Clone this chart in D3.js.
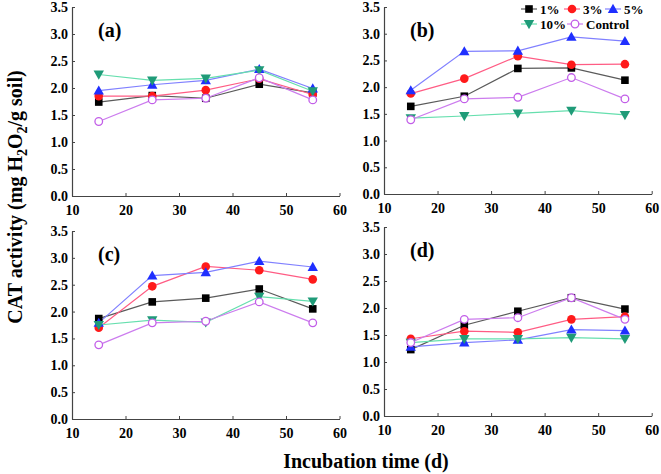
<!DOCTYPE html>
<html><head><meta charset="utf-8">
<script src="https://cdn.jsdelivr.net/npm/d3@7"></script>
<style>body{margin:0;background:#fff}svg{display:block}text{font-family:"Liberation Serif","Times New Roman",serif;font-weight:bold}</style>
</head><body>
<script>
const days = [15, 25, 35, 45, 55];
const seriesNames = ["1%", "3%", "5%", "10%", "Control"];
const xTicks = [10, 20, 30, 40, 50, 60];
const yTicks = [0, 0.5, 1.0, 1.5, 2.0, 2.5, 3.0, 3.5];
const panelLabels = ["(a)", "(b)", "(c)", "(d)"];

// values per panel, per series (1%, 3%, 5%, 10%, Control)
const panelA_1 = [1.74, 1.86, 1.81, 2.07, 1.91];
const panelA_3 = [1.85, 1.85, 1.96, 2.17, 1.88];
const panelA_5 = [1.95, 2.06, 2.14, 2.35, 1.99];
const panelA_10 = [2.25, 2.14, 2.18, 2.33, 1.94];
const panelA_C = [1.38, 1.78, 1.81, 2.19, 1.78];

const panelB_1 = [1.64, 1.83, 2.35, 2.36, 2.13];
const panelB_3 = [1.88, 2.16, 2.58, 2.42, 2.43];
const panelB_5 = [1.94, 2.67, 2.68, 2.94, 2.86];
const panelB_10 = [1.42, 1.46, 1.51, 1.56, 1.48];
const panelB_C = [1.39, 1.78, 1.81, 2.18, 1.78];

const panelC_1 = [1.87, 2.18, 2.25, 2.42, 2.05];
const panelC_3 = [1.70, 2.47, 2.84, 2.77, 2.60];
const panelC_5 = [1.79, 2.67, 2.73, 2.94, 2.83];
const panelC_10 = [1.75, 1.84, 1.80, 2.28, 2.19];
const panelC_C = [1.38, 1.79, 1.82, 2.18, 1.79];

const panelD_1 = [1.23, 1.68, 1.94, 2.19, 1.98];
const panelD_3 = [1.43, 1.57, 1.55, 1.79, 1.84];
const panelD_5 = [1.28, 1.36, 1.41, 1.60, 1.58];
const panelD_10 = [1.36, 1.43, 1.43, 1.45, 1.43];
const panelD_C = [1.36, 1.79, 1.82, 2.19, 1.79];

const panelData = [
  [panelA_1, panelA_3, panelA_5, panelA_10, panelA_C],
  [panelB_1, panelB_3, panelB_5, panelB_10, panelB_C],
  [panelC_1, panelC_3, panelC_5, panelC_10, panelC_C],
  [panelD_1, panelD_3, panelD_5, panelD_10, panelD_C]
];

const styles = [
  {line: "#5a5a5a", mk: "#000000", shape: "square", open: false},
  {line: "#ff5c84", mk: "#ff1a1a", shape: "circle", open: false},
  {line: "#8080ff", mk: "#1f2fff", shape: "up", open: false},
  {line: "#66dfae", mk: "#1f9b78", shape: "down", open: false},
  {line: "#cc7cee", mk: "#c25ee8", shape: "circle", open: true}
];

const panels = [
  {x0: 72, x1: 339.5, yT: 7, yB: 196},
  {x0: 384, x1: 651.7, yT: 7, yB: 194},
  {x0: 72, x1: 339.5, yT: 231, yB: 419},
  {x0: 384, x1: 651.7, yT: 227, yB: 416}
];

const W = 661, H = 474;
const svg = d3.select("body").append("svg").attr("width", W).attr("height", H);

function drawMarker(g, st, x, y) {
  if (st.shape === "square") {
    g.append("rect").attr("x", x - 3.8).attr("y", y - 3.8).attr("width", 7.6).attr("height", 7.6).attr("fill", st.mk);
  } else if (st.shape === "circle") {
    g.append("circle").attr("cx", x).attr("cy", y).attr("r", st.open ? 3.8 : 4.3)
      .attr("fill", st.open ? "#fff" : st.mk).attr("stroke", st.mk).attr("stroke-width", st.open ? 1.3 : 0);
  } else {
    const s = 5.2;
    const pts = st.shape === "up"
      ? [[x, y - s], [x - s, y + s * 0.75], [x + s, y + s * 0.75]]
      : [[x, y + s], [x - s, y - s * 0.75], [x + s, y - s * 0.75]];
    g.append("polygon").attr("points", pts.map(p => p.join(",")).join(" ")).attr("fill", st.mk);
  }
}

panels.forEach((p, pi) => {
  const x = d3.scaleLinear().domain([10, 60]).range([p.x0, p.x1]);
  const y = d3.scaleLinear().domain([0, 3.5]).range([p.yB, p.yT]);
  const g = svg.append("g");

  const xa = g.append("g").attr("transform", `translate(0,${p.yB})`)
    .call(d3.axisBottom(x).tickValues(xTicks).tickSizeInner(-3).tickSizeOuter(0).tickPadding(6).tickFormat(d3.format("d")));
  const ya = g.append("g").attr("transform", `translate(${p.x0},0)`)
    .call(d3.axisLeft(y).tickValues(yTicks).tickSizeInner(-3).tickSizeOuter(0).tickPadding(4).tickFormat(d3.format(".1f")));
  [xa, ya].forEach(a => {
    a.select(".domain").attr("stroke", "#444").attr("stroke-width", 1.2);
    a.selectAll(".tick line").attr("stroke", "#444");
    a.selectAll("text").attr("font-size", 14).attr("fill", "#000")
      .style("font-family", '"Liberation Serif","Times New Roman",serif').style("font-weight", "bold");
  });
  xa.selectAll("text").attr("dy", "0.95em");

  const line = d3.line().x((d, i) => x(days[i])).y(d => y(d));
  panelData[pi].forEach((vals, si) => {
    g.append("path").datum(vals).attr("d", line).attr("fill", "none")
      .attr("stroke", styles[si].line).attr("stroke-width", 1.2);
  });
  panelData[pi].forEach((vals, si) => {
    vals.forEach((v, i) => drawMarker(g, styles[si], x(days[i]), y(v)));
  });

  g.append("text").attr("x", p.x0 + 26).attr("y", p.yT + 30).attr("font-size", 20).text(panelLabels[pi]);
});

// legend in panel (b)
const legendItems = [
  {si: 0, x: 521, y: 9}, {si: 1, x: 564, y: 9}, {si: 2, x: 605, y: 9},
  {si: 3, x: 521, y: 24}, {si: 4, x: 567, y: 24}
];
const lg = svg.append("g");
legendItems.forEach(it => {
  const st = styles[it.si];
  lg.append("line").attr("x1", it.x).attr("x2", it.x + 16).attr("y1", it.y).attr("y2", it.y)
    .attr("stroke", st.line).attr("stroke-width", 1.2);
  drawMarker(lg, st, it.x + 8, it.y);
  lg.append("text").attr("x", it.x + 19).attr("y", it.y + 4.5).attr("font-size", 13).text(seriesNames[it.si]);
});

// axis titles
svg.append("text").attr("x", 366).attr("y", 468).attr("text-anchor", "middle").attr("font-size", 20)
  .text("Incubation time (d)");
const yt = svg.append("text").attr("transform", "translate(22,197) rotate(-90)").attr("text-anchor", "middle").attr("font-size", 20);
yt.append("tspan").text("CAT activity (mg H");
yt.append("tspan").attr("font-size", 14).attr("dy", 5).text("2");
yt.append("tspan").attr("dy", -5).text("O");
yt.append("tspan").attr("font-size", 14).attr("dy", 5).text("2");
yt.append("tspan").attr("dy", -5).text("/g soil)");
</script>
</body></html>
